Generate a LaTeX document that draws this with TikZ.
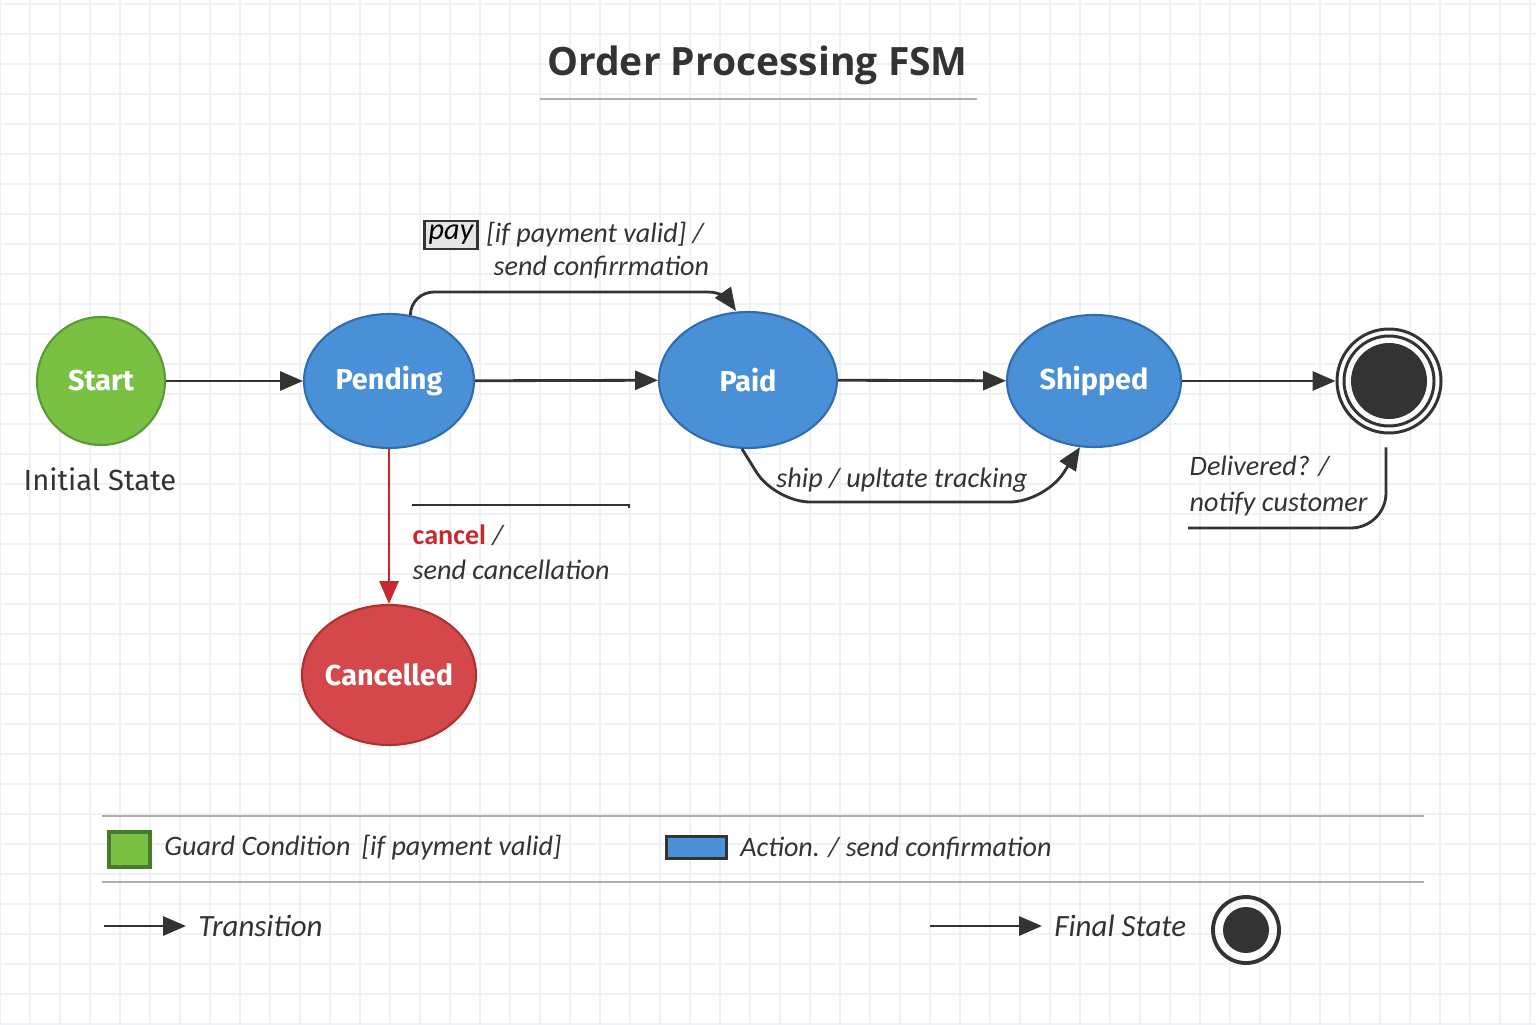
\documentclass[tikz,border=0pt]{standalone}
\usepackage{fontspec}
\setmainfont{Carlito}
\newfontfamily\statefont{Fira Sans}
\newfontfamily\titlefont{Open Sans}
\usepackage{xcolor}
\definecolor{fsmgreen}{HTML}{7AC043}
\definecolor{fsmgreenline}{HTML}{5A9A33}
\definecolor{fsmblue}{HTML}{4A90D6}
\definecolor{fsmblueline}{HTML}{2F6DB0}
\definecolor{fsmred}{HTML}{D4474B}
\definecolor{fsmredline}{HTML}{B0302F}
\definecolor{cancelred}{HTML}{C8282D}
\definecolor{ink}{HTML}{333333}
\definecolor{gridline}{HTML}{EFF1F4}
\definecolor{ruleline}{HTML}{AEAEAE}
\usepackage{tikz}
\usetikzlibrary{positioning, arrows.meta, shapes.geometric}
\tikzset{
    fsmstate/.style = {ellipse, draw=fsmblueline, fill=fsmblue, line width=0.6pt, inner sep=-1.5pt,
                       text=white, font=\statefont\bfseries\fontsize{8.2}{10}\selectfont},
    startstate/.style = {fsmstate, circle, draw=fsmgreenline, fill=fsmgreen,
                         minimum size=1.28cm},
    cancelstate/.style = {fsmstate, draw=fsmredline, fill=fsmred,
                          minimum width=1.74cm, minimum height=1.40cm},
    finalstate/.style = {circle, draw=ink, line width=0.85pt, minimum size=1.04cm},
    trans/.style = {-{Triangle[length=6.5pt, width=5.4pt]}, line width=0.8pt, color=ink},
    canceltrans/.style = {-{Triangle[length=6.5pt, width=5.4pt]}, line width=0.8pt, color=cancelred},
    conn/.style = {line width=0.8pt, color=ink},
    lbl/.style = {text=ink, inner sep=0pt, font=\itshape\fontsize{8}{10}\selectfont},
    paybox/.style = {draw=ink, fill=black!10, line width=0.6pt, inner sep=1.2pt,
                     text=black, font=\itshape\fontsize{8.6}{10}\selectfont},
    legendtext/.style = {text=ink, font=\itshape\fontsize{8}{10}\selectfont},
}

\begin{document}
\begin{tikzpicture}
    \useasboundingbox (0,0) rectangle (15.36,10.24);
    % background grid
    \fill[white] (0,0) rectangle (15.36,10.24);
    \draw[gridline, line width=0.4pt, step=0.3] (0,0) grid (15.36,10.24);

    % title
    \node[text=ink, font=\titlefont\bfseries\fontsize{11.1}{13}\selectfont] (title) at (7.575,9.59) {Order Processing FSM};
    \draw[ruleline, line width=0.6pt] (5.40,9.25) -- (9.77,9.25);

    % states
    \node[startstate] (start) at (1.01,6.43) {Start};
    \node[text=ink, font=\statefont\fontsize{8.3}{10}\selectfont] (initlbl) at (1.00,5.45) {Initial State};
    \node[fsmstate, minimum width=1.70cm, minimum height=1.34cm] (pending) at (3.89,6.43) {Pending};
    \node[fsmstate, minimum width=1.78cm, minimum height=1.36cm] (paid) at (7.48,6.44) {Paid};
    \node[fsmstate, minimum width=1.74cm, minimum height=1.32cm] (shipped) at (10.94,6.43) {Shipped};
    \node[finalstate] (final) at (13.89,6.43) {};
    \draw[ink, line width=0.85pt] (final.center) circle (0.45);
    \fill[ink] (final.center) circle (0.38);
    \node[cancelstate] (cancelled) at (3.89,3.49) {Cancelled};

    % main transitions
    \draw[trans] (start) -- (pending);
    \draw[trans] (pending) -- (paid);
    \draw[trans] (paid) -- (shipped);
    \draw[trans] (shipped) -- (final);

    % pay transition over the top
    \coordinate (payleft) at (4.34,7.32);
    \coordinate (payturn) at (7.08,7.32);
    \draw[trans] (pending.72) to[out=90, in=180] (payleft) -- (payturn) to[out=0, in=125] ([xshift=-0.12cm]paid.north);
    \node[paybox] (paykey) at (4.51,7.89) {pay};
    \node[lbl, right=2pt of paykey] (payguard) {[if payment valid] /};
    \node[lbl, anchor=west] (payaction) at (4.93,7.57) {send confirrmation};

    % ship transition underneath
    \coordinate (shipleft) at (7.75,5.22);
    \coordinate (shipright) at (10.45,5.22);
    \draw[trans, rounded corners=10pt] (paid.-95) -- (shipleft) -- (shipright) -- (shipped.-102);
    \node[lbl] (shiplbl) at (9.02,5.44) {ship / upltate tracking};

    % delivered
    \coordinate (dlvend) at (11.88,4.96);
    \draw[conn, rounded corners=10pt] ([xshift=-0.3mm, yshift=-1.3mm]final.south) |- (dlvend);
    \node[lbl, anchor=west, align=left, font=\itshape\fontsize{8}{10.5}\selectfont] (dlvlbl) at (11.89,5.38) {Delivered? /\\notify customer};

    % cancel
    \draw[canceltrans] (pending) -- (cancelled);
    \draw[conn] (4.12,5.19) -- (6.29,5.19) -- ++(0,-0.03);
    \node[lbl, anchor=west, align=left, font=\itshape\fontsize{8}{10}\selectfont] (cancellbl) at (4.12,4.72)
        {{\upshape\bfseries\color{cancelred}cancel} /\\send cancellation};

    % legend
    \draw[ruleline, line width=0.6pt] (1.02,2.08) -- (14.24,2.08);
    \draw[ruleline, line width=0.6pt] (1.02,1.42) -- (14.24,1.42);
    \node[draw=fsmgreenline!80!black, fill=fsmgreen, line width=1.2pt, minimum width=0.41cm,
          minimum height=0.35cm, inner sep=0pt] (guardkey) at (1.295,1.745) {};
    \node[legendtext, anchor=west] (guardlbl) at (1.52,1.76) {Guard Condition\, [if payment valid]};
    \node[draw=ink, fill=fsmblue, line width=0.8pt, minimum width=0.60cm,
          minimum height=0.22cm, inner sep=0pt] (actionkey) at (6.965,1.765) {};
    \node[legendtext, anchor=west] (actionlbl) at (7.28,1.76) {Action. / send confirmation};

    \coordinate (transtail) at (1.04,0.98);
    \node[legendtext, anchor=west, font=\itshape\fontsize{8.8}{10}\selectfont] (translbl) at (1.86,0.98) {Transition};
    \draw[trans] (transtail) -- (translbl.west);
    \coordinate (finaltail) at (9.30,0.98);
    \node[legendtext, anchor=west, font=\itshape\fontsize{8.8}{10}\selectfont] (finallbl) at (10.42,0.98) {Final State};
    \draw[trans] (finaltail) -- (finallbl.west);
    \node[circle, draw=ink, line width=1.1pt, minimum size=0.66cm] (finalkey) at (12.46,0.94) {};
    \fill[ink] (finalkey.center) circle (0.23);
\end{tikzpicture}
\end{document}
